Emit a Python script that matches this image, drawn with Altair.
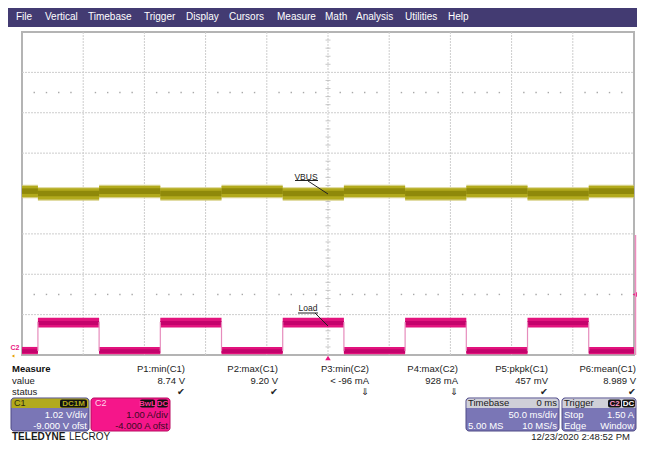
import altair as alt
import pandas as pd

# ---------------- values ----------------
MENU_ITEMS = ["File", "Vertical", "Timebase", "Trigger", "Display", "Cursors",
              "Measure", "Math", "Analysis", "Utilities", "Help"]

# scope settings shown in the descriptor boxes
TIME_DIV_MS = 50.0
C1_V_PER_DIV, C1_OFFSET_V = 1.02, -9.0
C2_A_PER_DIV, C2_OFFSET_A = 1.00, -4.0
TRIG_LEVEL_A = 1.50

# load-current transitions (ms); trace starts in the low (no-load) state
EDGE_MS = [-237, -187, -137, -87, -37, 13, 63, 113, 163, 213]
VBUS_PEAK_HI_V = [9.22, 9.16, 9.22, 9.16, 9.22, 9.16, 9.22, 9.16, 9.22, 9.16, 9.22]
VBUS_PEAK_LO_V = [8.88, 8.82, 8.88, 8.82, 8.88, 8.82, 8.88, 8.82, 8.88, 8.82, 8.88]
VBUS_MAX_V = [9.19, 9.13, 9.19, 9.13, 9.19, 9.13, 9.19, 9.13, 9.19, 9.13, 9.19]
VBUS_MIN_V = [8.91, 8.85, 8.91, 8.85, 8.91, 8.85, 8.91, 8.85, 8.91, 8.85, 8.91]
VBUS_CORE_HI_V = [9.13, 9.07, 9.13, 9.07, 9.13, 9.07, 9.13, 9.07, 9.13, 9.07, 9.13]
VBUS_CORE_LO_V = [8.99, 8.93, 8.99, 8.93, 8.99, 8.93, 8.99, 8.93, 8.99, 8.93, 8.99]
LOAD_MAX_A = [0.20, 0.92, 0.20, 0.92, 0.20, 0.92, 0.20, 0.92, 0.20, 0.92, 0.20]
LOAD_MIN_A = [0.02, 0.68, 0.02, 0.68, 0.02, 0.68, 0.02, 0.68, 0.02, 0.68, 0.02]
LOAD_CORE_HI_A = [0.14, 0.84, 0.14, 0.84, 0.14, 0.84, 0.14, 0.84, 0.14, 0.84, 0.14]
LOAD_CORE_LO_A = [0.05, 0.74, 0.05, 0.74, 0.05, 0.74, 0.05, 0.74, 0.05, 0.74, 0.05]

VGRID_MS = [-200, -150, -100, -50, 0, 50, 100, 150, 200]
HGRID_DIV = [-3, -2, -1, 0, 1, 2, 3]

MEAS_NAMES = ["P1:min(C1)", "P2:max(C1)", "P3:min(C2)", "P4:max(C2)", "P5:pkpk(C1)", "P6:mean(C1)"]
MEAS_VALUES = ["8.74 V", "9.20 V", "< -96 mA", "928 mA", "457 mV", "8.989 V"]
MEAS_STATUS = ["✔", "✔", "⇓", "⇓", "✔", "✔"]
ROW_LABELS = ["Measure", "value", "status"]

C1_BOX = ["C1", "DC1M", "1.02 V/div", "-9.000 V ofst"]
C2_BOX = ["C2", "BwL", "DC", "1.00 A/div", "-4.000 A ofst"]
TB_BOX = ["Timebase", "0 ms", "50.0 ms/div", "5.00 MS", "10 MS/s"]
TRIG_BOX = ["Trigger", "C2", "DC", "Stop", "1.50 A", "Edge", "Window"]
BRAND = ["TELEDYNE", "LECROY"]
DATE_TEXT = "12/23/2020 2:48:52 PM"
LABEL_VBUS = "VBUS"
LABEL_LOAD = "Load"

# ---------------- layout (pixels) ----------------
W, H = 629, 433
FONT = "Liberation Sans"
MENU_X_PX = [8, 37, 80, 136, 178, 221, 269, 317, 348, 397, 440]
COL_RIGHT_PX = [177, 270, 361, 450, 540, 628]
ROW_Y_PX = [361, 373, 384]
GRID_X = [14, 626]
GRID_Y = [347, 24]
BY0, BY1, BYH = 390, 423, 400          # descriptor boxes: top, bottom, header bottom
BT1, BT2, BTH = 407, 418, 395          # text rows inside boxes

XS = alt.Scale(domain=[-5 * TIME_DIV_MS, 5 * TIME_DIV_MS], range=GRID_X)
YS = alt.Scale(domain=[-4, 4], range=GRID_Y)

ONE = pd.DataFrame({"a": [0]})

C1_COL = "#b2aa1c"
C1_CORE = "#8f890a"
C1_FUZZ = "#cdc66a"
C2_COL = "#e2137d"
C2_CORE = "#c4036c"
BODY = "#7a76b6"
BORDER = "#4e4a86"


def c1_div(v):
    return (v + C1_OFFSET_V) / C1_V_PER_DIV


def c2_div(a):
    return (a + C2_OFFSET_A) / C2_A_PER_DIV


bounds = [-5 * TIME_DIV_MS] + EDGE_MS + [5 * TIME_DIV_MS]
seg = pd.DataFrame({
    "t0": bounds[:-1], "t1": bounds[1:],
    "p_lo": [c1_div(v) for v in VBUS_PEAK_LO_V], "p_hi": [c1_div(v) for v in VBUS_PEAK_HI_V],
    "v_lo": [c1_div(v) for v in VBUS_MIN_V], "v_hi": [c1_div(v) for v in VBUS_MAX_V],
    "vc_lo": [c1_div(v) for v in VBUS_CORE_LO_V], "vc_hi": [c1_div(v) for v in VBUS_CORE_HI_V],
    "a_lo": [c2_div(a) for a in LOAD_MIN_A], "a_hi": [c2_div(a) for a in LOAD_MAX_A],
    "ac_lo": [c2_div(a) for a in LOAD_CORE_LO_A], "ac_hi": [c2_div(a) for a in LOAD_CORE_HI_A],
})
edges = pd.DataFrame({"t": EDGE_MS,
                      "lo": [c2_div(LOAD_MIN_A[0] + 0.08)] * len(EDGE_MS),
                      "hi": [c2_div(LOAD_MAX_A[1] - 0.1)] * len(EDGE_MS)})


def px_rect(x0, x1, y0, y1, **kw):
    return alt.Chart(ONE).mark_rect(**kw).encode(
        x=alt.value(x0), x2=alt.value(x1), y=alt.value(y0), y2=alt.value(y1))


def px_text(s, x, y, size=9.5, color="#111111", align="left", weight="normal",
            baseline="middle", font=FONT):
    return alt.Chart(ONE).mark_text(
        text=s, align=align, baseline=baseline, fontSize=size, font=font,
        fontWeight=weight, color=color).encode(x=alt.value(x), y=alt.value(y))


def px_rule(x0, y0, x1, y1, color="#333333", width=1.0):
    return alt.Chart(ONE).mark_rule(color=color, strokeWidth=width).encode(
        x=alt.value(x0), y=alt.value(y0), x2=alt.value(x1), y2=alt.value(y1))


def band(lo, hi, color, opacity=1.0):
    return alt.Chart(seg).mark_rect(color=color, opacity=opacity).encode(
        x=alt.X("t0:Q", scale=XS, axis=None), x2="t1:Q",
        y=alt.Y(lo + ":Q", scale=YS, axis=None), y2=hi + ":Q")


layers = []

# menu bar
layers.append(px_rect(0, W, 0, 19, color="#433b72"))
menu_df = pd.DataFrame({"item": MENU_ITEMS, "px": MENU_X_PX})
layers.append(alt.Chart(menu_df).mark_text(
    align="left", baseline="middle", fontSize=10, font=FONT, color="white").encode(
    x=alt.X("px:Q", scale=None), y=alt.value(8.5), text="item:N"))

# graticule
frame = pd.DataFrame({"t0": [-250], "t1": [250], "d0": [-4], "d1": [4]})
layers.append(alt.Chart(frame).mark_rect(fill="white", stroke="#b4b4b4", strokeWidth=2).encode(
    x=alt.X("t0:Q", scale=XS, axis=None), x2="t1:Q",
    y=alt.Y("d0:Q", scale=YS, axis=None), y2="d1:Q"))
layers.append(alt.Chart(pd.DataFrame({"t": VGRID_MS})).mark_rule(
    color="#cdcdcd", strokeDash=[2, 1], strokeWidth=1).encode(
    x=alt.X("t:Q", scale=XS, axis=None), y=alt.value(GRID_Y[1]), y2=alt.value(GRID_Y[0])))
layers.append(alt.Chart(pd.DataFrame({"d": HGRID_DIV})).mark_rule(
    color="#cdcdcd", strokeDash=[2, 1], strokeWidth=1).encode(
    y=alt.Y("d:Q", scale=YS, axis=None), x=alt.value(GRID_X[0]), x2=alt.value(GRID_X[1])))
dots = pd.DataFrame([{"t": t, "d": d} for d in (2.5, -2.5)
                     for t in range(-240, 250, 10) if t % 50 != 0])
layers.append(alt.Chart(dots).mark_square(size=2, color="#a8a8a8", opacity=1).encode(
    x=alt.X("t:Q", scale=XS, axis=None), y=alt.Y("d:Q", scale=YS, axis=None)))
ticks = pd.DataFrame({"t": 0, "d": [i / 5 for i in range(-19, 20) if i % 5 != 0]})
layers.append(alt.Chart(ticks).mark_tick(orient="horizontal", size=5, thickness=1, color="#b0b0b0").encode(
    x=alt.X("t:Q", scale=XS, axis=None), y=alt.Y("d:Q", scale=YS, axis=None)))

# traces
layers.append(band("p_lo", "p_hi", C1_FUZZ, 0.8))
layers.append(band("v_lo", "v_hi", C1_COL))
layers.append(band("vc_lo", "vc_hi", C1_CORE))
layers.append(band("a_lo", "a_hi", C2_COL))
layers.append(band("ac_lo", "ac_hi", C2_CORE))
layers.append(alt.Chart(edges).mark_rule(color="#e68cbc", strokeWidth=1.2).encode(
    x=alt.X("t:Q", scale=XS, axis=None),
    y=alt.Y("lo:Q", scale=YS, axis=None), y2="hi:Q"))

# markers
trig = pd.DataFrame({"t": [0.0], "lvl": [c2_div(TRIG_LEVEL_A)]})
layers.append(alt.Chart(trig).mark_point(shape="triangle-up", filled=True, size=30,
                                         color="#e8157f", opacity=1).encode(
    x=alt.X("t:Q", scale=XS, axis=None), y=alt.value(350)))
layers.append(alt.Chart(trig).mark_point(shape="triangle-left", filled=True, size=30,
                                         color="#e8157f", opacity=1).encode(
    x=alt.value(627), y=alt.Y("lvl:Q", scale=YS, axis=None)))
layers.append(px_rule(627.5, 227, 627.5, 347, color="#f08cc0", width=1.5))
layers.append(px_text("C2", 7, 340, size=7, color="#e8157f", weight="bold", align="center"))
layers.append(alt.Chart(ONE).mark_point(shape="triangle-left", filled=True, size=10,
                                         color="#e8a000", opacity=1).encode(
    x=alt.value(5), y=alt.value(348)))

# callouts
layers.append(px_text(LABEL_VBUS, 298, 168.5, size=8.5, color="#222222", align="center"))
layers.append(px_rule(287, 172.5, 310, 172.5, color="#222222"))
layers.append(px_rule(300, 173, 320, 186, color="#222222"))
layers.append(px_text(LABEL_LOAD, 300, 300, size=8.5, color="#222222", align="center"))
layers.append(px_rule(290, 305, 310, 305, color="#222222"))
layers.append(px_rule(307, 305, 320, 318, color="#222222"))

# measurement table
layers.append(px_text(ROW_LABELS[0], 4, ROW_Y_PX[0], weight="bold", color="#111111"))
layers.append(px_text(ROW_LABELS[1], 4, ROW_Y_PX[1], color="#222222"))
layers.append(px_text(ROW_LABELS[2], 4, ROW_Y_PX[2], color="#222222"))
meas = pd.DataFrame({"name": MEAS_NAMES, "val": MEAS_VALUES, "st": MEAS_STATUS,
                     "px": COL_RIGHT_PX, "pxs": [p - 4 for p in COL_RIGHT_PX]})
for field, row, xfield, align in (("name", 0, "px", "right"), ("val", 1, "px", "right"),
                                  ("st", 2, "pxs", "center")):
    layers.append(alt.Chart(meas).mark_text(
        align=align, baseline="middle", fontSize=9.5, font=FONT if row < 2 else "DejaVu Sans",
        color="#222222").encode(
        x=alt.X(xfield + ":Q", scale=None), y=alt.value(ROW_Y_PX[row]), text=field + ":N"))

# C1 descriptor
layers.append(px_rect(3, 81, BY0, BY1, fill=BODY, stroke=BORDER, strokeWidth=1, cornerRadius=3))
layers.append(px_rect(3.5, 80.5, BY0 + 0.5, BYH, fill=C1_COL, cornerRadiusTopLeft=3, cornerRadiusTopRight=3))
layers.append(px_text(C1_BOX[0], 6, BTH, size=9, color="#2a2a10"))
layers.append(px_rect(52, 79, BY0 + 1.5, BYH - 0.5, fill="#111111", cornerRadius=2))
layers.append(px_text(C1_BOX[1], 65.5, BTH + 0.5, size=8, color=C1_COL, weight="bold", align="center"))
layers.append(px_text(C1_BOX[2], 79, BT1, color="white", align="right"))
layers.append(px_text(C1_BOX[3], 79, BT2, color="white", align="right"))

# C2 descriptor
layers.append(px_rect(83, 162, BY0, BY1, fill="#f5168a", stroke="#b80a60", strokeWidth=1, cornerRadius=3))
layers.append(px_text(C2_BOX[0], 87, BTH, size=9, color="#ffd6ea"))
layers.append(px_rect(132, 147, BY0 + 1.5, BYH - 0.5, fill="#111111", cornerRadius=2))
layers.append(px_text(C2_BOX[1], 139.5, BTH + 0.5, size=8, color="#ff3399", weight="bold", align="center"))
layers.append(px_rect(149, 160, BY0 + 1.5, BYH - 0.5, fill="#111111", cornerRadius=2))
layers.append(px_text(C2_BOX[2], 154.5, BTH + 0.5, size=8, color="#ff3399", weight="bold", align="center"))
layers.append(px_text(C2_BOX[3], 160, BT1, color="#3a0a22", align="right"))
layers.append(px_text(C2_BOX[4], 160, BT2, color="#3a0a22", align="right"))

# Timebase descriptor
layers.append(px_rect(458, 551, BY0, BY1, fill=BODY, stroke=BORDER, strokeWidth=1, cornerRadius=3))
layers.append(px_rect(458.5, 550.5, BY0 + 0.5, BYH, fill="#d0d0d8", cornerRadiusTopLeft=3, cornerRadiusTopRight=3))
layers.append(px_text(TB_BOX[0], 460, BTH, color="#1a1a1a"))
layers.append(px_text(TB_BOX[1], 549, BTH, color="#1a1a1a", align="right"))
layers.append(px_text(TB_BOX[2], 549, BT1, color="white", align="right"))
layers.append(px_text(TB_BOX[3], 460, BT2, color="white"))
layers.append(px_text(TB_BOX[4], 549, BT2, color="white", align="right"))

# Trigger descriptor
layers.append(px_rect(554, 628, BY0, BY1, fill=BODY, stroke=BORDER, strokeWidth=1, cornerRadius=3))
layers.append(px_rect(554.5, 627.5, BY0 + 0.5, BYH, fill="#d0d0d8", cornerRadiusTopLeft=3, cornerRadiusTopRight=3))
layers.append(px_text(TRIG_BOX[0], 556, BTH, color="#1a1a1a"))
layers.append(px_rect(600, 613, BY0 + 1.5, BYH - 0.5, fill="#111111", cornerRadius=2))
layers.append(px_text(TRIG_BOX[1], 606.5, BTH + 0.5, size=8, color="#ff9ccc", weight="bold", align="center"))
layers.append(px_rect(614, 627, BY0 + 1.5, BYH - 0.5, fill="#111111", cornerRadius=2))
layers.append(px_text(TRIG_BOX[2], 620.5, BTH + 0.5, size=8, color="white", weight="bold", align="center"))
layers.append(px_text(TRIG_BOX[3], 556, BT1, color="white"))
layers.append(px_text(TRIG_BOX[4], 626, BT1, color="white", align="right"))
layers.append(px_text(TRIG_BOX[5], 556, BT2, color="white"))
layers.append(px_text(TRIG_BOX[6], 626, BT2, color="white", align="right"))

# brand and date
layers.append(px_text(BRAND[0], 4, 432, size=10, weight="bold", color="#1a1a1a", baseline="alphabetic"))
layers.append(px_text(BRAND[1], 61, 432, size=10, color="#1a1a1a", baseline="alphabetic"))
layers.append(px_text(DATE_TEXT, 622, 432, size=9.5, color="#222222", align="right", baseline="alphabetic"))

chart = alt.layer(*layers).resolve_scale(x="independent", y="independent").properties(
    width=W, height=H, padding=0, autosize=alt.AutoSizeParams(type="none")
).configure_view(strokeWidth=0)

chart.save("out.html", embed_options={"renderer": "svg", "actions": False})
